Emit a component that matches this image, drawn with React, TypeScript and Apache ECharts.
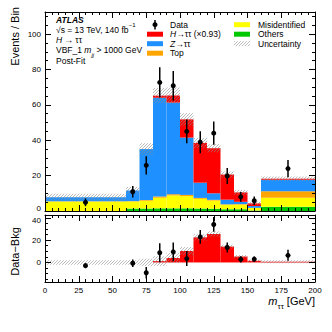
import React, { useEffect, useRef } from "react";
import * as echarts from "echarts";

// ---------------- data ----------------
const binEdges = [0, 60, 70, 80, 90, 100, 110, 120, 130, 140, 150, 160, 200];
const othersBkg = [0, 1.4, 1.4, 1.5, 1.5, 1.5, 1.4, 1.3, 1.0, 1.0, 0.3, 2.4];
const misidBkg = [5.4, 4.0, 4.4, 6.0, 7.3, 6.9, 5.5, 4.6, 2.5, 2.6, 1.4, 5.1];
const topBkg = [0.1, 0.2, 0.4, 0.7, 0.7, 0.7, 0.5, 0.4, 0.3, 0.3, 0.1, 3.7];
const zttBkg = [2.3, 6.0, 28.8, 55.8, 51.8, 32.4, 8.6, 3.7, 2.6, 1.3, 1.0, 6.4];
const httSignal = [0, 0, 0, 1.2, 4.0, 10.3, 22.5, 25.5, 14.2, 5.3, 1.5, 0.6];
const uncertainty = [2.0, 2.0, 3.3, 4.3, 4.5, 3.5, 2.8, 2.3, 1.8, 1.4, 1.0, 1.3];
const dataX = [30, 65, 75, 85, 95, 105, 115, 125, 135, 145, 155, 180];
const dataY = [4.9, 10.9, 25.8, 72.7, 70.8, 45.0, 38.9, 44.0, 19.8, 8.0, 5.8, 24.0];
const dataErr = [2.2, 3.3, 5.1, 8.5, 8.4, 6.7, 6.2, 6.6, 4.5, 2.8, 2.4, 4.9];

const upperYTicks = [0, 20, 40, 60, 80, 100];
const upperYMinor = [5, 10, 15, 25, 30, 35, 45, 50, 55, 65, 70, 75, 85, 90, 95, 105, 110];
const lowerYTicks = [0, 20, 40];
const lowerYMinor = [-15, -10, -5, 5, 10, 15, 25, 30, 35];

const FONT = "Liberation Sans";
const COLORS = {
  others: "#00c800",
  misid: "#ffff00",
  top: "#ffa500",
  ztt: "#1e90ff",
  htt: "#ff0000",
};

function makeHatch() {
  const c = document.createElement("canvas");
  c.width = 3;
  c.height = 3;
  const ctx = c.getContext("2d")!;
  ctx.fillStyle = "rgba(140,140,140,0.6)";
  for (let i = 0; i < 3; i++) ctx.fillRect(i, 2 - i, 1, 1);
  return c;
}

function rectSeries(name: string, data: number[][], fill: any, xi: number, yi: number, z: number) {
  return {
    type: "custom",
    name,
    xAxisIndex: xi,
    yAxisIndex: yi,
    z,
    clip: true,
    silent: true,
    data,
    encode: { x: [0, 1], y: [2, 3] },
    renderItem: (_p: any, api: any) => {
      const a = api.coord([api.value(0), api.value(3)]);
      const b = api.coord([api.value(1), api.value(2)]);
      return {
        type: "rect",
        shape: { x: a[0], y: a[1], width: b[0] - a[0], height: b[1] - a[1] },
        style: { fill },
      };
    },
  };
}

function dataSeries(name: string, pts: number[][], xi: number, yi: number) {
  return {
    type: "custom",
    name,
    xAxisIndex: xi,
    yAxisIndex: yi,
    z: 20,
    clip: true,
    silent: true,
    data: pts,
    encode: { x: 0, y: 1 },
    renderItem: (_p: any, api: any) => {
      const x = api.value(0);
      const y = api.value(1);
      const e = api.value(2);
      const p = api.coord([x, y]);
      const pt = api.coord([x, y + e]);
      const pb = api.coord([x, y - e]);
      return {
        type: "group",
        children: [
          { type: "line", shape: { x1: p[0], y1: pt[1], x2: p[0], y2: pb[1] }, style: { stroke: "#000", lineWidth: 1.5 } },
          { type: "circle", shape: { cx: p[0], cy: p[1], r: 2.5 }, style: { fill: "#000" } },
        ],
      };
    },
  };
}

function xAx(gridIndex: number, position: string, showLabels: boolean) {
  return {
    type: "value",
    gridIndex,
    position,
    min: 0,
    max: 200,
    interval: 25,
    z: 30,
    axisLine: { show: true, onZero: false, lineStyle: { color: "#000", width: 1 } },
    axisTick: { show: true, inside: true, length: 6, lineStyle: { color: "#000", width: 1 } },
    minorTick: { show: true, splitNumber: 5, length: 3, lineStyle: { color: "#000", width: 1 } },
    axisLabel: { show: showLabels, fontSize: 8, color: "#000", fontFamily: FONT, margin: 4 },
    splitLine: { show: false },
    minorSplitLine: { show: false },
  };
}

function yAx(
  gridIndex: number,
  position: string,
  min: number,
  max: number,
  ticks: number[],
  len: number,
  showLabels: boolean,
  line: boolean,
  shiftValue?: number,
  shiftPad?: number[]
) {
  return {
    type: "value",
    gridIndex,
    position,
    min,
    max,
    z: 30,
    axisLine: { show: line, onZero: false, lineStyle: { color: "#000", width: 1 } },
    axisTick: { show: true, inside: true, length: len, customValues: ticks, lineStyle: { color: "#000", width: 1 } },
    axisLabel: {
      show: showLabels,
      customValues: ticks,
      fontSize: 8,
      color: "#000",
      fontFamily: FONT,
      margin: 4,
      formatter: (v: number) => (shiftValue !== undefined && v === shiftValue ? `{s|${v}}` : String(v)),
      rich: { s: { fontSize: 8, fontFamily: FONT, color: "#000", padding: shiftPad || [0, 0, 0, 0] } },
    },
    splitLine: { show: false },
  };
}

function buildOption() {
  const hatch = { image: makeHatch(), repeat: "repeat", imageWidth: 3, imageHeight: 3 };
  const nb = binEdges.length - 1;
  const layers = [
    { name: "Others", values: othersBkg, color: COLORS.others },
    { name: "Misidentified", values: misidBkg, color: COLORS.misid },
    { name: "Top", values: topBkg, color: COLORS.top },
    { name: "Z→ττ", values: zttBkg, color: COLORS.ztt },
    { name: "H→ττ (×0.93)", values: httSignal, color: COLORS.htt },
  ];
  let base = Array.from({ length: nb }, () => 0);
  const series: any[] = [];
  layers.forEach((l, li) => {
    const d = l.values.map((v, i) => [binEdges[i], binEdges[i + 1], base[i], base[i] + v]);
    base = base.map((b, i) => b + l.values[i]);
    series.push(rectSeries(l.name, d, l.color, 0, 0, 2 + li));
  });
  const total = base;
  const bkg = total.map((t, i) => t - httSignal[i]);
  series.push(
    rectSeries(
      "Uncertainty",
      total.map((t, i) => [binEdges[i], binEdges[i + 1], t - uncertainty[i], t + uncertainty[i]]),
      hatch,
      0,
      0,
      10
    )
  );
  series.push(dataSeries("Data", dataX.map((x, i) => [x, dataY[i], dataErr[i]]), 0, 0));

  // lower panel
  series.push(
    rectSeries(
      "H→ττ signal",
      httSignal.map((v, i) => [binEdges[i], binEdges[i + 1], 0, v]),
      COLORS.htt,
      2,
      4,
      5
    )
  );
  series.push(
    rectSeries(
      "Uncertainty (ratio)",
      httSignal.map((v, i) => [binEdges[i], binEdges[i + 1], v - uncertainty[i], v + uncertainty[i]]),
      hatch,
      2,
      4,
      10
    )
  );
  const diff = dataX.map((x, i) => {
    const bi = binEdges.findIndex((e, k) => k < nb && x >= e && x < binEdges[k + 1]);
    return [x, dataY[i] - bkg[bi], dataErr[i]];
  });
  series.push(dataSeries("Data−Bkg", diff, 2, 4));

  const baseText = { fill: "#000", fontFamily: FONT, fontSize: 8.5, align: "left", verticalAlign: "middle", lineHeight: 16 };
  const richBase = {
    i: { fontStyle: "italic", fontFamily: FONT, fontSize: 8.5 },
    sub: { fontFamily: FONT, fontSize: 6, verticalAlign: "bottom" },
    subi: { fontFamily: FONT, fontSize: 6, fontStyle: "italic", verticalAlign: "bottom" },
    sup: { fontFamily: FONT, fontSize: 6, verticalAlign: "top" },
  };
  const T = (x: number, y: number, text: string, extra: any = {}) => ({
    type: "text",
    x,
    y,
    z: 50,
    style: { ...baseText, text, rich: richBase, ...extra },
  });
  const legRect = (x: number, y: number, fill: any) => ({
    type: "rect",
    z: 50,
    shape: { x, y: y - 2.5, width: 16, height: 5 },
    style: { fill },
  });

  const graphic: any[] = [
    T(56, 20, "ATLAS", { fontWeight: "bold", fontStyle: "italic" }),
    T(56, 29.5, "√s = 13 TeV, 140 fb{sup|−1}"),
    T(56, 39.5, "{i|H} → ττ"),
    T(56, 50, "VBF_1 {i|m}{subi|jj} > 1000 GeV"),
    T(56, 60.5, "Post-Fit"),
    { type: "line", z: 50, shape: { x1: 155, y1: 20, x2: 155, y2: 29.5 }, style: { stroke: "#000", lineWidth: 1.5 } },
    { type: "circle", z: 50, shape: { cx: 155, cy: 24.7, r: 2.5 }, style: { fill: "#000" } },
    T(170, 24.7, "Data"),
    legRect(147, 34.2, COLORS.htt),
    T(170, 34.2, "{i|H}→ττ (×0.93)"),
    legRect(147, 43.7, COLORS.ztt),
    T(170, 43.7, "{i|Z}→ττ"),
    legRect(147, 53.2, COLORS.top),
    T(170, 53.2, "Top"),
    legRect(234, 24.7, COLORS.misid),
    T(258, 24.7, "Misidentified"),
    legRect(234, 34.2, COLORS.others),
    T(258, 34.2, "Others"),
    legRect(234, 43.7, hatch),
    T(258, 43.7, "Uncertainty"),
    {
      type: "text",
      x: 15,
      y: 7,
      rotation: Math.PI / 2,
      z: 50,
      style: { text: "Events / Bin", fill: "#000", fontFamily: FONT, fontSize: 11, align: "right", verticalAlign: "middle" },
    },
    {
      type: "text",
      x: 15,
      y: 251.5,
      rotation: Math.PI / 2,
      z: 50,
      style: { text: "Data−Bkg", fill: "#000", fontFamily: FONT, fontSize: 11, align: "center", verticalAlign: "middle" },
    },
    {
      type: "text",
      x: 315,
      y: 301,
      z: 50,
      style: {
        text: "{i|m}{sub|ττ} [GeV]",
        fill: "#000",
        fontFamily: FONT,
        fontSize: 11,
        align: "right",
        verticalAlign: "middle",
        lineHeight: 18,
        rich: {
          i: { fontStyle: "italic", fontFamily: FONT, fontSize: 11 },
          sub: { fontFamily: FONT, fontSize: 8, verticalAlign: "bottom" },
        },
      },
    },
  ];

  return {
    animation: false,
    backgroundColor: "#fff",
    grid: [
      { left: 45, right: 17, top: 12, height: 199 },
      { left: 45, right: 17, top: 215, height: 67 },
    ],
    xAxis: [xAx(0, "bottom", false), xAx(0, "top", false), xAx(1, "bottom", true), xAx(1, "top", false)],
    yAxis: [
      yAx(0, "left", 0, 112.5, upperYTicks, 6, true, true, 0, [0, 0, 5, 0]),
      yAx(0, "left", 0, 112.5, upperYMinor, 3, false, false),
      yAx(0, "right", 0, 112.5, upperYTicks, 6, false, true),
      yAx(0, "right", 0, 112.5, upperYMinor, 3, false, false),
      yAx(1, "left", -17.5, 42.5, lowerYTicks, 6, true, true, 40, [5, 0, 0, 0]),
      yAx(1, "left", -17.5, 42.5, lowerYMinor, 3, false, false),
      yAx(1, "right", -17.5, 42.5, lowerYTicks, 6, false, true),
      yAx(1, "right", -17.5, 42.5, lowerYMinor, 3, false, false),
    ],
    series,
    graphic,
  };
}

export default function App() {
  const ref = useRef<HTMLDivElement>(null);
  useEffect(() => {
    if (!ref.current) return;
    const chart = echarts.init(ref.current, undefined, { renderer: "svg" });
    chart.setOption(buildOption() as any);
    return () => chart.dispose();
  }, []);
  return (
    <div
      ref={ref}
      style={{ position: "fixed", left: 0, top: 0, width: 332, height: 332, background: "#fff" }}
    />
  );
}
